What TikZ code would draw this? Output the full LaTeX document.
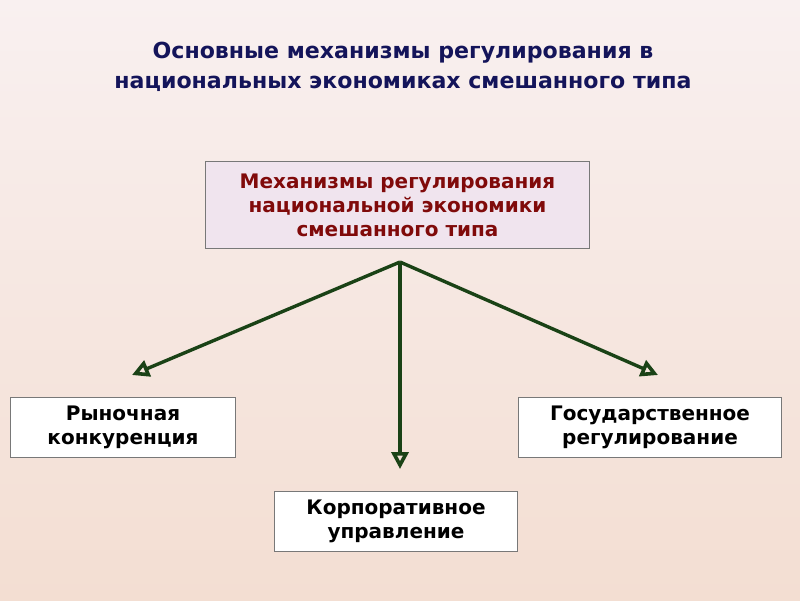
\documentclass[tikz,border=0pt]{standalone}
\usepackage{fontspec}
\setmainfont{DejaVu Sans}
\usetikzlibrary{arrows.meta}
\definecolor{navy}{RGB}{20,20,90}
\definecolor{darkred}{RGB}{128,10,10}
\definecolor{arrowgreen}{RGB}{26,66,22}
\definecolor{topfill}{RGB}{240,228,238}
\definecolor{bordergrey}{RGB}{120,120,120}
\definecolor{bgtop}{RGB}{249,240,240}
\definecolor{bgbottom}{RGB}{243,222,210}
\tikzset{
  box/.style={draw=bordergrey, line width=1pt, fill=white, inner sep=0pt, align=center, font=\bfseries\fontsize{20}{24}\selectfont, anchor=north west},
  link/.style={arrowgreen, line width=3.4pt, -{Triangle[open, length=17pt, width=17pt, line width=3.6pt]}},
}
\begin{document}
\begin{tikzpicture}[x=1pt,y=-1pt]
\shade[top color=bgtop, bottom color=bgbottom] (0,0) rectangle (800,600);
\useasboundingbox (0,0) rectangle (800,600);
\node[font=\bfseries\fontsize{22.1}{30}\selectfont, text=navy, align=center] (title) at (403,67)
  {Основные механизмы регулирования в\\национальных экономиках смешанного типа};
\node[box, fill=topfill, text=darkred, minimum width=384pt, minimum height=87pt] (top) at (205,161)
  {Механизмы регулирования\\национальной экономики\\смешанного типа};
\node[box, minimum width=225pt, minimum height=60pt] (left) at (10,397) {Рыночная\\конкуренция};
\node[box, minimum width=263pt, minimum height=60pt] (right) at (518,397) {Государственное\\регулирование};
\node[box, minimum width=243pt, minimum height=60pt] (bottom) at (274,491) {Корпоративное\\управление};
\coordinate (hub) at (400,262);
\coordinate (lend) at (132,375);
\coordinate (rend) at (658,375);
\coordinate (bend) at (400,469);
\draw[link] (hub) -- (lend);
\draw[link] (hub) -- (rend);
\draw[link] (hub) -- (bend);
\end{tikzpicture}
\end{document}
